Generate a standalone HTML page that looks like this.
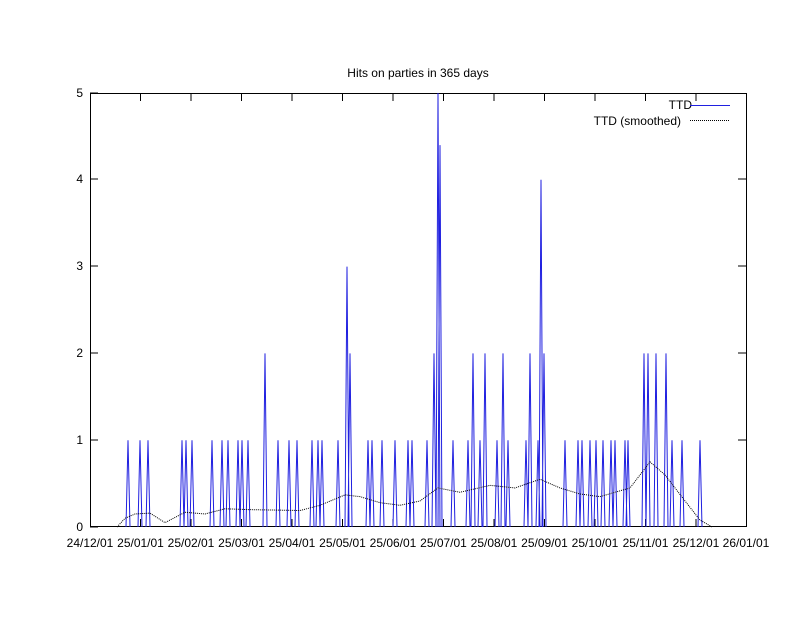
<!DOCTYPE html><html><head><style>body{margin:0;background:#fff}svg text{font-family:"Liberation Sans",sans-serif;font-size:12px}</style></head><body>
<svg width="796" height="612" xmlns="http://www.w3.org/2000/svg">
<rect width="796" height="612" fill="#fff"/>
<text x="418" y="77" text-anchor="middle">Hits on parties in 365 days</text>
<g stroke="#000" stroke-width="1" fill="none">
<rect x="90.5" y="93.5" width="656" height="433"/>
<path d="M90 527h8M90 440h8M90 353h8M90 266h8M90 179h8M90 93h8M746 440h-8M746 353h-8M746 266h-8M746 179h-8
M140.5 527v-8M191 527v-8M241.5 527v-8M292 527v-8M342.5 527v-8M393 527v-8M443.5 527v-8M494 527v-8M544.5 527v-8M595 527v-8M645.5 527v-8M696 527v-8
M140.5 93v8M191 93v8M241.5 93v8M292 93v8M342.5 93v8M393 93v8M443.5 93v8M494 93v8M544.5 93v8M595 93v8M645.5 93v8M696 93v8"/>
</g>
<g text-anchor="end"><text x="83" y="531">0</text><text x="83" y="444">1</text><text x="83" y="357">2</text><text x="83" y="270">3</text><text x="83" y="183">4</text><text x="83" y="97">5</text></g>
<g text-anchor="middle"><text x="90" y="547">24/12/01</text><text x="140.5" y="547">25/01/01</text><text x="191" y="547">25/02/01</text><text x="241.5" y="547">25/03/01</text><text x="292" y="547">25/04/01</text><text x="342.5" y="547">25/05/01</text><text x="393" y="547">25/06/01</text><text x="443.5" y="547">25/07/01</text><text x="494" y="547">25/08/01</text><text x="544.5" y="547">25/09/01</text><text x="595" y="547">25/10/01</text><text x="645.5" y="547">25/11/01</text><text x="696" y="547">25/12/01</text><text x="746" y="547">26/01/01</text></g>
<text x="692" y="109" text-anchor="end">TTD</text>
<text x="681" y="125" text-anchor="end">TTD (smoothed)</text>
<line x1="690" y1="105.5" x2="730" y2="105.5" stroke="#2020e0"/>
<line x1="690" y1="120.5" x2="730" y2="120.5" stroke="#000" stroke-dasharray="1,1"/>
<path id="sp" fill="none" stroke="#2020e0" stroke-width="1"/>
<path id="sm" fill="none" stroke="#000" stroke-width="1" stroke-dasharray="1,1"/>
<script>
var s=[[128,1],[140,1],[148,1],[182,1],[186,1],[192,1],[212,1],[222,1],[228,1],[238,1],[242,1],[248,1],[265,2],[278,1],[289,1],[297,1],[312,1],[318,1],[322,1],[338,1],[347,3],[350,2],[368,1],[372,1],[382,1],[395,1],[408,1],[412,1],[427,1],[434,2],[438,5],[440,4.4],[453,1],[468,1],[473,2],[480,1],[485,2],[497,1],[503,2],[508,1],[526,1],[530,2],[538,1],[541,4],[544,2],[565,1],[578,1],[582,1],[590,1],[596,1],[603,1],[611,1],[615,1],[625,1],[628,1],[644,2],[648,2],[656,2],[666,2],[672,1],[682,1],[700,1]];
function Y(v){return 527-86.8*v}
var d="";s.forEach(function(p){d+="M"+(p[0]-2)+" 527L"+p[0]+" "+Y(p[1])+"L"+(p[0]+2)+" 527"});
document.getElementById("sp").setAttribute("d",d);
var m=[[117,0],[125,0.1],[135,0.15],[150,0.16],[165,0.05],[185,0.17],[205,0.15],[225,0.21],[250,0.2],[300,0.19],[320,0.25],[345,0.37],[360,0.35],[380,0.28],[400,0.25],[420,0.3],[438,0.45],[460,0.4],[490,0.48],[515,0.45],[540,0.55],[560,0.45],[580,0.38],[600,0.35],[630,0.45],[650,0.75],[665,0.6],[685,0.3],[700,0.08],[712,0]];
document.getElementById("sm").setAttribute("d","M"+m.map(function(p){return p[0]+" "+Y(p[1])}).join("L"));
</script>
</svg></body></html>
